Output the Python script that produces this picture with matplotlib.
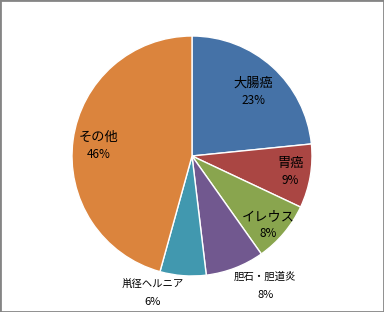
import numpy as np
import matplotlib.pyplot as plt
from matplotlib.patches import Rectangle

plt.rcParams['font.family'] = ['Noto Sans CJK JP', 'DejaVu Sans']

# Slice data (clockwise from 12 o'clock)
labels = ['大腸癌', '胃癌', 'イレウス', '胆石・胆道炎', '鼡径ヘルニア', 'その他']
values = [23.4, 8.6, 8.2, 7.9, 6.2, 45.7]
colors = ['#4572A7', '#AA4643', '#89A54E', '#71588F', '#4198AF', '#DB843D']

# label placement per slice: radius fraction, angle shift (deg), font sizes
label_r = [0.74, 0.83, 0.855, 1.24, 1.19, 0.78]
label_dang = [-1.3, 0.5, -2.2, 8.4, -11.7, 1.5]
name_size = [9.5, 9.5, 9.5, 7.5, 7.5, 9.5]
pct_size = [8.5, 8.5, 8.5, 8, 8, 8.5]

fig = plt.figure(figsize=(3.84, 3.12), dpi=100)
ax = fig.add_axes([0.0, 0.0, 1.0, 1.0])

wedges, _ = ax.pie(values, colors=colors, startangle=90, counterclock=False,
                   radius=1.0, center=(0, 0),
                   wedgeprops=dict(edgecolor='white', linewidth=1.0))

for w, name, v, r, da, ns, ps in zip(wedges, labels, values, label_r, label_dang,
                                     name_size, pct_size):
    ang = np.deg2rad((w.theta1 + w.theta2) / 2 + da)
    x, y = r * np.cos(ang), r * np.sin(ang)
    ax.text(x, y + 0.07, name, ha='center', va='center', fontsize=ns, color='black')
    ax.text(x, y - 0.075, '%.0f%%' % v, ha='center', va='center', fontsize=ps, color='black')

# place pie: center at (192,156) px, radius ~120 px
ax.set_xlim(-192 / 120, (384 - 192) / 120)
ax.set_ylim(-(312 - 156) / 120, 156 / 120)
ax.set_aspect('equal')
ax.axis('off')

fig.patches.append(Rectangle((0, 0), 1, 1, transform=fig.transFigure,
                             fill=False, edgecolor='#858585', linewidth=2.0))

fig.savefig('out.png', dpi=100)
